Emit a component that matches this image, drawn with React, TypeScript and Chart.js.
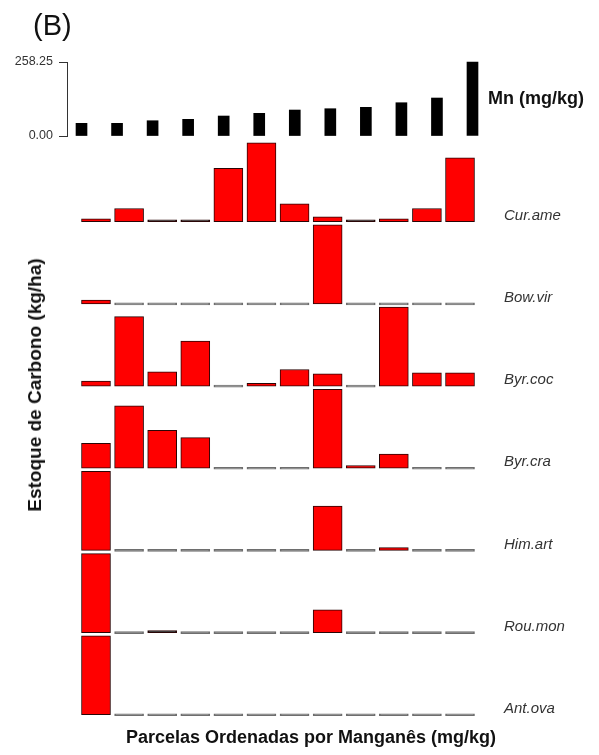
import React, { useEffect, useRef } from 'react';
import { Chart, registerables } from 'chart.js';

Chart.register(...registerables);

// Parcels ordered by manganese
const parcels = ['1', '2', '3', '4', '5', '6', '7', '8', '9', '10', '11', '12'];
// Mn (mg/kg) per parcel
const mnValues = [44.3, 44.3, 53.4, 58.3, 69.8, 79.2, 90.7, 95.3, 100.2, 116.2, 132.6, 258.25];
const mnTicks = [0, 258.25];

// Carbon stock per species (relative, % of each species' maximum)
const speciesNames = ['Cur.ame', 'Bow.vir', 'Byr.coc', 'Byr.cra', 'Him.art', 'Rou.mon', 'Ant.ova'];
const curAme = [3.8, 16.8, 1, 1, 67.5, 100, 22.8, 6.3, 1, 3.8, 16.8, 81];
const bowVir = [4.7, 0, 0, 0, 0, 0, 0, 100, 0, 0, 0, 0];
const byrCoc = [6.3, 88, 18, 57, 0, 3.4, 21, 15.6, 0, 100, 16.8, 16.8];
const byrCra = [31.6, 79, 48, 38.8, 0, 0, 0, 100, 3.4, 18, 0, 0];
const himArt = [100, 0, 0, 0, 0, 0, 0, 56, 0, 3.4, 0, 0];
const rouMon = [100, 0, 1, 0, 0, 0, 0, 28.7, 0, 0, 0, 0];
const antOva = [100, 0, 0, 0, 0, 0, 0, 0, 0, 0, 0, 0];
const speciesValues = [curAme, bowVir, byrCoc, byrCra, himArt, rouMon, antOva];

// Panel layout (shared vertical units)
const Y_MIN = -6.7;
const Y_MAX = 841.4;
const PANEL_STEP = 104;
const PANEL_MAX = 100;
const MN_BASE = 732.5;
const MN_SPAN = 93.7;

const FONT = "'Liberation Sans', Arial, Helvetica, sans-serif";

export default function App() {
  const ref = useRef<HTMLCanvasElement>(null);

  useEffect(() => {
    if (!ref.current) return;
    const scales: any = {
      x: { type: 'linear', min: 0.154, max: 12.604, display: false, offset: false },
      xMn: { type: 'linear', min: 0.62, max: 12.211, display: false, offset: false },
      yMn: {
        type: 'linear',
        position: 'left',
        min: ((Y_MIN - MN_BASE) * 258.25) / MN_SPAN,
        max: ((Y_MAX - MN_BASE) * 258.25) / MN_SPAN,
        afterFit: (s: any) => {
          s.width = 68;
        },
        afterBuildTicks: (s: any) => {
          s.ticks = mnTicks.map((v) => ({ value: v }));
        },
        ticks: {
          callback: (v: any) => Number(v).toFixed(2),
          font: { size: 12.5, family: FONT },
          color: '#333',
          padding: 6,
          autoSkip: false,
        },
        grid: { drawOnChartArea: false, drawTicks: true, tickLength: 9, color: '#333', lineWidth: 1 },
        border: { display: false },
      },
    };
    const datasets: any[] = [
      {
        label: 'Mn (mg/kg)',
        data: mnValues.map((v, i) => ({ x: i + 1, y: v })),
        xAxisID: 'xMn',
        yAxisID: 'yMn',
        backgroundColor: '#000000',
        borderWidth: 0,
        barThickness: 11,
        grouped: false,
      },
    ];
    speciesValues.forEach((vals, k) => {
      const base = (speciesNames.length - 1 - k) * PANEL_STEP;
      const id = 's' + k;
      scales[id] = {
        type: 'linear',
        display: false,
        min: ((Y_MIN - base) * PANEL_MAX) / 100,
        max: ((Y_MAX - base) * PANEL_MAX) / 100,
      };
      datasets.push({
        label: speciesNames[k],
        data: vals.map((v, i) => ({ x: i + 1, y: v })),
        xAxisID: 'x',
        yAxisID: id,
        backgroundColor: (c: any) => {
          const y = c.raw ? c.raw.y : 1;
          if (y === 0) return '#6e6e6e';
          if (y < 2) return '#111111';
          return '#ff0000';
        },
        borderColor: (c: any) => (c.raw && c.raw.y === 0 ? '#6e6e6e' : '#2a0505'),
        borderWidth: 1,
        borderSkipped: false,
        minBarLength: 2,
        barThickness: 29,
        grouped: false,
      });
    });

    const labelPlugin = {
      id: 'panelLabels',
      afterDraw(chart: any) {
        const ctx = chart.ctx;
        const mn = chart.scales.yMn;
        ctx.save();
        // short Mn axis line
        ctx.strokeStyle = '#333';
        ctx.lineWidth = 1;
        ctx.beginPath();
        const ax = Math.round(mn.right) - 0.5;
        ctx.moveTo(ax, mn.getPixelForValue(mnTicks[1]));
        ctx.lineTo(ax, mn.getPixelForValue(mnTicks[0]));
        ctx.stroke();
        // Mn label
        ctx.fillStyle = '#111';
        ctx.font = `bold 18px ${FONT}`;
        ctx.textBaseline = 'middle';
        ctx.textAlign = 'left';
        ctx.fillText('Mn (mg/kg)', 488, (mn.getPixelForValue(mnTicks[0]) + mn.getPixelForValue(mnTicks[1])) / 2);
        // species labels
        ctx.font = `italic 15px ${FONT}`;
        ctx.fillStyle = '#333';
        speciesNames.forEach((name, k) => {
          const s = chart.scales['s' + k];
          ctx.fillText(name, 504, s.getPixelForValue(0) - 6);
        });
        ctx.restore();
      },
    };

    const chart = new Chart(ref.current, {
      type: 'bar',
      data: { labels: parcels, datasets },
      options: {
        animation: false,
        responsive: false,
        devicePixelRatio: 1,
        layout: { padding: { left: 0, right: 119, top: 50, bottom: 35 } },
        plugins: { legend: { display: false }, tooltip: { enabled: false } },
        scales,
      },
      plugins: [labelPlugin],
    } as any);
    return () => chart.destroy();
  }, []);

  return (
    <div style={{ position: 'absolute', left: 0, top: 0, width: 599, height: 755, background: '#fff', fontFamily: FONT }}>
      <canvas ref={ref} width={599} height={755} style={{ position: 'absolute', left: 0, top: 0 }} />
      <div style={{ position: 'absolute', left: 33, top: 9, fontSize: 29, lineHeight: '32px', color: '#111' }}>(B)</div>
      <div
        style={{
          position: 'absolute',
          left: 35,
          top: 385,
          transform: 'translate(-50%, -50%) rotate(-90deg)',
          whiteSpace: 'nowrap',
          fontWeight: 'bold',
          fontSize: 19,
          color: '#111',
        }}
      >
        Estoque de Carbono (kg/ha)
      </div>
      <div
        style={{
          position: 'absolute',
          left: 311,
          top: 737,
          transform: 'translate(-50%, -50%)',
          whiteSpace: 'nowrap',
          fontWeight: 'bold',
          fontSize: 18,
          color: '#111',
        }}
      >
        Parcelas Ordenadas por Manganês (mg/kg)
      </div>
    </div>
  );
}
